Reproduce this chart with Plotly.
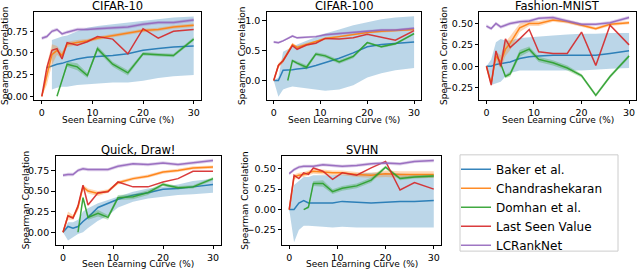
import plotly.graph_objects as go

# ---------------- data ----------------
x_pct = [0, 1, 2, 3, 4, 5, 7, 9, 11, 14, 17, 20, 23, 26, 30]
methods = ["Baker et al.", "Chandrashekaran", "Domhan et al.", "Last Seen Value", "LCRankNet"]
titles = ["CIFAR-10", "CIFAR-100", "Fashion-MNIST", "Quick, Draw!", "SVHN"]

# CIFAR-10
c10_baker = [None, 0.33, 0.35, 0.37, 0.38, 0.40, 0.43, 0.45, 0.46, 0.47, 0.49, 0.53, 0.55, 0.57, 0.58]
c10_baker_lo = [None, None, 0.08, 0.10, 0.11, 0.11, 0.13, 0.14, 0.15, 0.16, 0.16, 0.18, 0.21, 0.23, 0.245]
c10_baker_hi = [None, None, 0.65, 0.67, 0.69, 0.70, 0.75, 0.79, 0.81, 0.83, 0.85, 0.87, 0.89, 0.91, 0.92]
c10_chand = [0.0, 0.25, 0.48, 0.53, 0.47, 0.60, 0.62, 0.64, 0.67, 0.70, 0.73, 0.76, 0.77, 0.80, 0.82]
c10_chand_sd = [0.0, 0.12, 0.12, 0.05, 0.04, 0.03, 0.03, 0.02, 0.02, 0.02, 0.02, 0.02, 0.02, 0.02, 0.02]
c10_domhan = [None, None, None, 0.0, 0.19, 0.37, 0.34, 0.24, 0.55, 0.37, 0.27, 0.49, 0.48, 0.47, 0.66]
c10_last = [0.0, 0.33, 0.53, 0.55, 0.43, 0.62, 0.59, 0.63, 0.69, 0.66, 0.49, 0.78, 0.67, 0.75, 0.77]
c10_lcrank = [0.67, 0.69, 0.75, 0.77, 0.72, 0.74, 0.77, 0.77, 0.78, 0.79, 0.80, 0.83, 0.85, 0.85, 0.88]

# CIFAR-100
c100_baker = [0.0, 0.0, 0.17, 0.17, 0.18, 0.19, 0.21, 0.25, 0.30, 0.37, 0.46, 0.56, 0.60, 0.62, 0.64]
c100_baker_lo = [0.0, -0.27, -0.15, -0.12, -0.10, -0.10, -0.12, -0.15, -0.17, -0.15, -0.08, 0.05, 0.12, 0.17, 0.21]
c100_baker_hi = [0.0, 0.05, 0.48, 0.52, 0.56, 0.60, 0.66, 0.72, 0.78, 0.85, 0.92, 0.97, 1.02, 1.05, 1.07]
c100_chand = [0.0, 0.25, 0.33, 0.47, 0.60, 0.55, 0.60, 0.64, 0.70, 0.73, 0.77, 0.80, 0.82, 0.83, 0.85]
c100_chand_sd = [0.0, 0.04, 0.04, 0.04, 0.03, 0.03, 0.03, 0.02, 0.02, 0.02, 0.02, 0.02, 0.02, 0.02, 0.02]
c100_domhan = [None, None, None, 0.0, 0.33, 0.29, 0.22, 0.44, 0.41, 0.31, 0.40, 0.63, 0.56, 0.61, 0.78]
c100_last = [0.0, 0.25, 0.33, 0.46, 0.58, 0.52, 0.59, 0.62, 0.70, 0.69, 0.71, 0.77, 0.72, 0.67, 0.83]
c100_lcrank = [0.64, 0.63, 0.66, 0.70, 0.74, 0.71, 0.72, 0.73, 0.76, 0.78, 0.80, 0.82, 0.84, 0.84, 0.87]

# Fashion-MNIST
fm_baker = [0.0, 0.0, 0.02, 0.03, 0.04, 0.05, 0.09, 0.11, 0.12, 0.13, 0.13, 0.13, 0.13, 0.15, 0.18]
fm_baker_lo = [0.0, -0.22, -0.20, -0.18, -0.12, -0.08, -0.05, -0.05, -0.05, -0.05, -0.05, -0.05, -0.04, -0.03, -0.02]
fm_baker_hi = [0.0, 0.08, 0.28, 0.32, 0.30, 0.30, 0.33, 0.34, 0.35, 0.36, 0.37, 0.38, 0.38, 0.39, 0.39]
fm_chand = [0.0, -0.20, 0.12, 0.05, 0.20, 0.27, 0.45, 0.50, 0.50, 0.54, 0.52, 0.48, 0.44, 0.49, 0.51]
fm_chand_sd = [0.0, 0.03, 0.05, 0.08, 0.08, 0.08, 0.05, 0.03, 0.03, 0.02, 0.02, 0.02, 0.02, 0.02, 0.02]
fm_domhan = [None, None, None, 0.03, -0.12, -0.09, 0.15, 0.20, 0.08, 0.04, -0.02, -0.11, -0.34, -0.12, 0.12]
fm_last = [0.0, -0.22, 0.18, 0.0, 0.32, 0.22, 0.32, 0.43, 0.17, 0.15, 0.15, 0.40, 0.01, 0.48, 0.25]
fm_lcrank = [0.47, 0.44, 0.50, 0.46, 0.48, 0.50, 0.52, 0.53, 0.56, 0.57, 0.53, 0.49, 0.49, 0.51, 0.57]

# Quick, Draw!
qd_baker = [0.0, 0.07, 0.05, 0.07, 0.13, 0.18, 0.30, 0.35, 0.40, 0.45, 0.48, 0.52, 0.53, 0.55, 0.58]
qd_baker_lo = [0.0, -0.10, -0.06, -0.02, 0.0, 0.05, 0.14, 0.20, 0.30, 0.37, 0.41, 0.43, 0.45, 0.46, 0.48]
qd_baker_hi = [0.0, 0.12, 0.12, 0.15, 0.25, 0.29, 0.35, 0.39, 0.43, 0.49, 0.53, 0.55, 0.58, 0.62, 0.65]
qd_chand = [0.0, 0.20, 0.18, 0.30, 0.55, 0.50, 0.47, 0.50, 0.60, 0.65, 0.68, 0.73, 0.75, 0.78, 0.79]
qd_chand_sd = [0.0, 0.05, 0.03, 0.04, 0.03, 0.03, 0.03, 0.02, 0.02, 0.02, 0.02, 0.02, 0.02, 0.02, 0.02]
qd_domhan = [None, None, None, 0.0, 0.42, 0.18, 0.23, 0.18, 0.42, 0.43, 0.48, 0.58, 0.54, 0.55, 0.65]
qd_last = [0.0, 0.20, 0.17, 0.32, 0.57, 0.33, 0.48, 0.49, 0.61, 0.55, 0.55, 0.61, 0.65, 0.74, 0.74]
qd_lcrank = [0.69, 0.70, 0.70, 0.75, 0.77, 0.76, 0.76, 0.76, 0.80, 0.83, 0.82, 0.84, 0.82, 0.84, 0.87]

# SVHN
sv_baker = [0.0, 0.0, 0.08, 0.11, 0.08, 0.08, 0.08, 0.08, 0.10, 0.09, 0.08, 0.09, 0.10, 0.10, 0.11]
sv_baker_lo = [0.0, -0.40, -0.25, -0.20, -0.20, -0.20, -0.21, -0.22, -0.21, -0.22, -0.22, -0.22, -0.22, -0.22, -0.22]
sv_baker_hi = [0.0, 0.30, 0.35, 0.40, 0.40, 0.42, 0.42, 0.42, 0.43, 0.44, 0.45, 0.45, 0.44, 0.43, 0.42]
sv_chand = [0.0, 0.40, 0.42, 0.43, 0.45, 0.47, 0.46, 0.45, 0.45, 0.43, 0.42, 0.44, 0.43, 0.43, 0.43]
sv_chand_sd = [0.0, 0.03, 0.03, 0.03, 0.03, 0.03, 0.03, 0.03, 0.03, 0.03, 0.03, 0.04, 0.04, 0.04, 0.04]
sv_domhan = [None, None, None, 0.0, 0.03, 0.32, 0.32, 0.22, 0.26, 0.29, 0.36, 0.52, 0.38, 0.40, 0.41]
sv_last = [0.0, 0.42, 0.38, 0.45, 0.43, 0.51, 0.47, 0.37, 0.45, 0.42, 0.51, 0.59, 0.24, 0.33, 0.25]
sv_lcrank = [0.44, 0.49, 0.52, 0.53, 0.53, 0.53, 0.55, 0.54, 0.53, 0.54, 0.56, 0.57, 0.56, 0.59, 0.60]

# shared band half-widths
domhan_sd = [0, 0, 0, 0.0, 0.02, 0.03, 0.04, 0.03, 0.03, 0.03, 0.03, 0.02, 0.02, 0.02, 0.02]
lcrank_sd = [0.02, 0.02, 0.02, 0.02, 0.02, 0.02, 0.02, 0.02, 0.02, 0.02, 0.02, 0.02, 0.02, 0.02, 0.02]

y_ranges = [[-0.042, 0.97], [-0.323, 1.136], [-0.394, 0.632], [-0.153, 0.93], [-0.433, 0.662]]
y_ticks = [[0, 0.25, 0.5, 0.75], [0, 0.5, 1.0], [-0.25, 0, 0.25, 0.5], [0, 0.25, 0.5, 0.75], [-0.25, 0, 0.25, 0.5]]
y_fmt = [".2f", ".1f", ".2f", ".2f", ".2f"]
x_ticks = [0, 10, 20, 30]

panels = [
    (c10_baker, c10_baker_lo, c10_baker_hi, c10_chand, c10_chand_sd, c10_domhan, c10_last, c10_lcrank),
    (c100_baker, c100_baker_lo, c100_baker_hi, c100_chand, c100_chand_sd, c100_domhan, c100_last, c100_lcrank),
    (fm_baker, fm_baker_lo, fm_baker_hi, fm_chand, fm_chand_sd, fm_domhan, fm_last, fm_lcrank),
    (qd_baker, qd_baker_lo, qd_baker_hi, qd_chand, qd_chand_sd, qd_domhan, qd_last, qd_lcrank),
    (sv_baker, sv_baker_lo, sv_baker_hi, sv_chand, sv_chand_sd, sv_domhan, sv_last, sv_lcrank),
]

# ---------------- style / layout (pixels) ----------------
colors = ["#1f77b4", "#ff7f0e", "#2ca02c", "#d62728", "#9467bd"]
fills = ["rgba(31,119,180,0.3)", "rgba(255,127,14,0.3)", "rgba(44,160,44,0.3)",
         "rgba(214,39,40,0.3)", "rgba(148,103,189,0.3)"]
W, H = 640, 269
box_x = [(34.2, 201.3), (266.7, 421.1), (479.3, 636.2), (55.5, 220.5), (282.0, 441.0)]
box_y = [(12.3, 100.7), (12.3, 100.7), (12.3, 100.7), (156.7, 246.7), (156.7, 246.7)]
ylab_x = [5.0, 242.0, 444.0, 26.0, 245.5]
title_y = [6.0, 6.0, 6.0, 151.0, 151.0]
xlab_y = [121.0, 121.0, 121.0, 265.5, 265.5]
legend_frame = (460, 156, 618, 253)
FONT = "DejaVu Sans"


def px(v):
    return v / W


def py(v):
    return 1 - v / H


fig = go.Figure()


def band(xs, lo, hi):
    pts = [(a, l, h) for a, l, h in zip(xs, lo, hi) if l is not None and h is not None]
    bx = [p[0] for p in pts] + [p[0] for p in reversed(pts)]
    by = [p[2] for p in pts] + [p[1] for p in reversed(pts)]
    return bx, by


def sd_bounds(vals, sd):
    lo = [None if v is None else v - s for v, s in zip(vals, sd)]
    hi = [None if v is None else v + s for v, s in zip(vals, sd)]
    return lo, hi


for i, p in enumerate(panels):
    baker, blo, bhi, chand, csd, domhan, last, lcrank = p
    xa = "x" if i == 0 else f"x{i+1}"
    ya = "y" if i == 0 else f"y{i+1}"
    series = [baker, chand, domhan, last, lcrank]
    bands = [(blo, bhi), sd_bounds(chand, csd), sd_bounds(domhan, domhan_sd), None, sd_bounds(lcrank, lcrank_sd)]
    for k in range(5):
        fig.add_trace(go.Scatter(x=x_pct, y=series[k], xaxis=xa, yaxis=ya, mode="lines",
                                 line=dict(color=colors[k], width=1.5), opacity=0.9,
                                 name=methods[k], showlegend=(i == 0), connectgaps=False))
        if bands[k] is not None:
            bx, by = band(x_pct, bands[k][0], bands[k][1])
            fig.add_trace(go.Scatter(x=bx, y=by, xaxis=xa, yaxis=ya, fill="toself",
                                     fillcolor=fills[k], line=dict(width=0), mode="lines",
                                     hoverinfo="skip", showlegend=False))

lx0, ly0, lx1, ly1 = legend_frame

layout = dict(width=W, height=H, margin=dict(l=0, r=0, t=0, b=0),
              paper_bgcolor="white", plot_bgcolor="white",
              font=dict(family=FONT, size=9, color="#000000"),
              legend=dict(x=px(456), y=py(156), xanchor="left", yanchor="top",
                          bgcolor="rgba(0,0,0,0)", borderwidth=0,
                          font=dict(family=FONT, size=12), tracegroupgap=0,
                          itemwidth=30),
              shapes=[dict(type="rect", xref="paper", yref="paper",
                           x0=px(lx0), x1=px(lx1), y0=py(ly1), y1=py(ly0),
                           line=dict(color="#cccccc", width=1), fillcolor="white",
                           layer="below")],
              annotations=[])

for i in range(5):
    sx = "" if i == 0 else str(i + 1)
    layout["xaxis" + sx] = dict(domain=[px(box_x[i][0]), px(box_x[i][1])], anchor="y" + sx,
                                range=[-1.5, 31.5], tickvals=x_ticks, showgrid=False,
                                zeroline=False, ticks="outside", ticklen=3.5, tickwidth=0.8,
                                tickcolor="#000", showline=True, linecolor="#000",
                                linewidth=0.8, mirror=True, tickfont=dict(size=9.5))
    layout["yaxis" + sx] = dict(domain=[py(box_y[i][1]), py(box_y[i][0])], anchor="x" + sx,
                                range=y_ranges[i], tickvals=y_ticks[i], tickformat=y_fmt[i],
                                showgrid=False, zeroline=False, ticks="outside", ticklen=3.5,
                                tickwidth=0.8, tickcolor="#000", showline=True, linecolor="#000",
                                linewidth=0.8, mirror=True, tickfont=dict(size=9.5))
    cx = px((box_x[i][0] + box_x[i][1]) / 2)
    layout["annotations"].append(dict(text=titles[i], x=cx, y=py(title_y[i]), xref="paper",
                                      yref="paper", xanchor="center", yanchor="middle",
                                      showarrow=False, font=dict(size=11.5)))
    layout["annotations"].append(dict(text="Seen Learning Curve (%)", x=cx, y=py(xlab_y[i]),
                                      xref="paper", yref="paper", xanchor="center", yanchor="middle",
                                      showarrow=False, font=dict(size=9)))
    layout["annotations"].append(dict(text="Spearman Correlation", textangle=-90,
                                      x=px(ylab_x[i]), y=py((box_y[i][0] + box_y[i][1]) / 2),
                                      xref="paper", yref="paper", xanchor="center", yanchor="middle",
                                      showarrow=False, font=dict(size=9)))

fig.update_layout(**layout)
fig.write_html("out.html", config={"displayModeBar": False},
               post_script="document.body.style.margin='0';document.body.style.overflow='hidden';")
